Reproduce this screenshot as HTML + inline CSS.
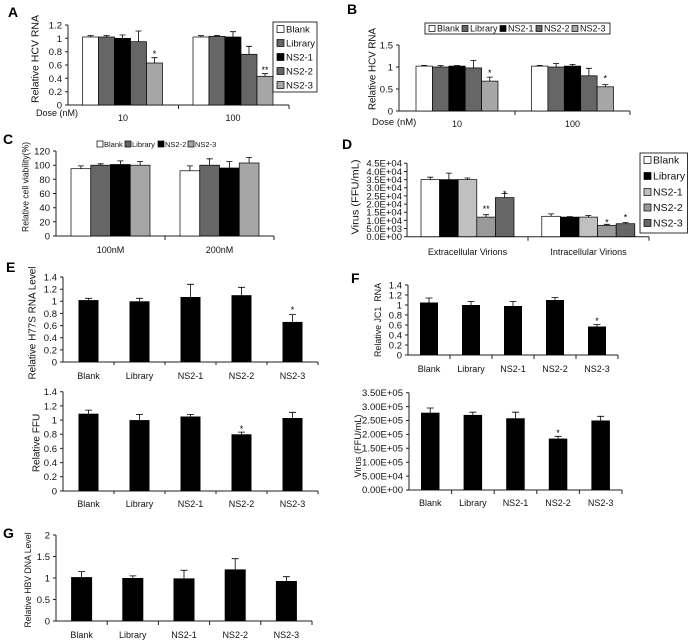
<!DOCTYPE html>
<html><head><meta charset="utf-8"><style>
html,body{margin:0;padding:0;background:#fff;}
svg{display:block;}
text{font-family:"Liberation Sans",Arial,sans-serif;fill:#111;}
.L{font-size:14px;font-weight:bold;fill:#000;}
.tk{font-size:9.5px;text-anchor:end;}
.cl{font-size:9px;text-anchor:middle;}
.ax{stroke:#222;stroke-width:1;fill:none;}
.b{stroke:#000;stroke-width:0.7;}
.e{stroke:#000;stroke-width:0.8;fill:none;}
.st{font-size:9px;text-anchor:middle;fill:#000;}
</style></head><body>
<svg width="689" height="642" viewBox="0 0 689 642" xmlns="http://www.w3.org/2000/svg">
<rect width="689" height="642" fill="#fff"/>

<!-- ===== Panel A ===== -->
<text class="L" x="8" y="17">A</text>
<path class="ax" d="M68,25V105H289 M65,25H68 M65,38.3H68 M65,51.7H68 M65,65H68 M65,78.3H68 M65,91.7H68 M65,105H68 M178.5,105V109 M289,105V109"/>
<text class="tk" x="62" y="108.5">0</text>
<text class="tk" x="62" y="95.2">0.2</text>
<text class="tk" x="62" y="81.8">0.4</text>
<text class="tk" x="62" y="68.5">0.6</text>
<text class="tk" x="62" y="55.2">0.8</text>
<text class="tk" x="62" y="41.8">1</text>
<text class="tk" x="62" y="28.5">1.2</text>
<rect class="b" x="82.5" y="37" width="16" height="68" fill="#fff"/>
<rect class="b" x="98.5" y="37" width="16" height="68" fill="#666"/>
<rect class="b" x="114.5" y="38.3" width="16" height="66.7" fill="#000"/>
<rect class="b" x="130.5" y="41.7" width="16" height="63.3" fill="#666"/>
<rect class="b" x="146.5" y="63" width="16" height="42" fill="#a6a6a6"/>
<rect class="b" x="193" y="37" width="16" height="68" fill="#fff"/>
<rect class="b" x="209" y="36.3" width="16" height="68.7" fill="#666"/>
<rect class="b" x="225" y="37" width="16" height="68" fill="#000"/>
<rect class="b" x="241" y="54.3" width="16" height="50.7" fill="#666"/>
<rect class="b" x="257" y="76.3" width="16" height="28.7" fill="#a6a6a6"/>
<path class="e" d="M90.5,37V35.7 M87.5,35.7H93.5 M106.5,37V35.7 M103.5,35.7H109.5 M122.5,38.3V35 M119.5,35H125.5 M138.5,41.7V31 M135.5,31H141.5 M154.5,63V57.7 M151.5,57.7H157.5
M201,37V35.7 M198,35.7H204 M217,36.3V35.4 M214,35.4H220 M233,37V31.7 M230,31.7H236 M249,54.3V46.3 M246,46.3H252 M265,76.3V73.7 M262,73.7H268"/>
<text class="st" x="154.5" y="57">*</text>
<text class="st" x="265" y="73">**</text>
<rect x="273" y="22" width="44" height="70" fill="#fff" stroke="#000" stroke-width="0.8"/>
<rect class="b" x="277" y="25.5" width="7" height="7" fill="#fff"/>
<rect class="b" x="277" y="39.5" width="7" height="7" fill="#666"/>
<rect class="b" x="277" y="53.5" width="7" height="7" fill="#000"/>
<rect class="b" x="277" y="67.5" width="7" height="7" fill="#666"/>
<rect class="b" x="277" y="81.5" width="7" height="7" fill="#a6a6a6"/>
<text x="286" y="32.5" font-size="9.5">Blank</text>
<text x="286" y="46.5" font-size="9.5">Library</text>
<text x="286" y="60.5" font-size="9.5">NS2-1</text>
<text x="286" y="74.5" font-size="9.5">NS2-2</text>
<text x="286" y="88.5" font-size="9.5">NS2-3</text>
<text transform="translate(38.5,59) rotate(-90)" text-anchor="middle" font-size="10.5" textLength="88" lengthAdjust="spacingAndGlyphs">Relative HCV RNA</text>
<text x="36" y="116" font-size="9">Dose (nM)</text>
<text class="cl" x="123" y="121">10</text>
<text class="cl" x="233" y="121">100</text>

<!-- ===== Panel B ===== -->
<text class="L" x="347" y="14">B</text>
<path class="ax" d="M399,45V111H630 M396,45H399 M396,67H399 M396,89H399 M396,111H399 M515,111V115 M630,111V115"/>
<text class="tk" x="393" y="114.5">0</text>
<text class="tk" x="393" y="92.5">0.5</text>
<text class="tk" x="393" y="70.5">1</text>
<text class="tk" x="393" y="48.5">1.5</text>
<rect class="b" x="416" y="66.1" width="16.4" height="44.9" fill="#fff"/>
<rect class="b" x="432.4" y="67" width="16.4" height="44" fill="#666"/>
<rect class="b" x="448.8" y="66.1" width="16.4" height="44.9" fill="#000"/>
<rect class="b" x="465.2" y="67.9" width="16.4" height="43.1" fill="#666"/>
<rect class="b" x="481.6" y="81.1" width="16.4" height="29.9" fill="#a6a6a6"/>
<rect class="b" x="531.5" y="66.1" width="16.4" height="44.9" fill="#fff"/>
<rect class="b" x="547.9" y="67" width="16.4" height="44" fill="#666"/>
<rect class="b" x="564.3" y="66.1" width="16.4" height="44.9" fill="#000"/>
<rect class="b" x="580.7" y="75.8" width="16.4" height="35.2" fill="#666"/>
<rect class="b" x="597.1" y="86.8" width="16.4" height="24.2" fill="#a6a6a6"/>
<path class="e" d="M424.2,66.1V65.4 M421.2,65.4H427.2 M440.6,67V65.7 M437.6,65.7H443.6 M457,66.1V65.5 M454,65.5H460 M473.4,67.9V60.4 M470.4,60.4H476.4 M489.8,81.1V77.1 M486.8,77.1H492.8
M539.7,66.1V65.4 M536.7,65.4H542.7 M556.1,67V63.5 M553.1,63.5H559.1 M572.5,66.1V64.4 M569.5,64.4H575.5 M588.9,75.8V68.3 M585.9,68.3H591.9 M605.3,86.8V84.6 M602.3,84.6H608.3"/>
<text class="st" x="489.8" y="76">*</text>
<text class="st" x="605.3" y="81.5">*</text>
<rect x="425" y="23" width="185" height="11" fill="#fff" stroke="#000" stroke-width="0.8"/>
<rect class="b" x="429" y="25.5" width="6" height="6" fill="#fff"/>
<rect class="b" x="462" y="25.5" width="6" height="6" fill="#666"/>
<rect class="b" x="500" y="25.5" width="6" height="6" fill="#000"/>
<rect class="b" x="536" y="25.5" width="6" height="6" fill="#666"/>
<rect class="b" x="572" y="25.5" width="6" height="6" fill="#a6a6a6"/>
<text x="437" y="31.5" font-size="9">Blank</text>
<text x="470" y="31.5" font-size="9">Library</text>
<text x="508" y="31.5" font-size="9">NS2-1</text>
<text x="544" y="31.5" font-size="9">NS2-2</text>
<text x="580" y="31.5" font-size="9">NS2-3</text>
<text transform="translate(375.5,69) rotate(-90)" text-anchor="middle" font-size="10" textLength="82" lengthAdjust="spacingAndGlyphs">Relative HCV RNA</text>
<text x="372" y="125" font-size="9.5">Dose (nM)</text>
<text class="cl" x="457" y="127">10</text>
<text class="cl" x="572.5" y="127">100</text>

<!-- ===== Panel C ===== -->
<text class="L" x="3" y="144">C</text>
<path class="ax" d="M56,151V236H274 M53,151H56 M53,165.2H56 M53,179.3H56 M53,193.5H56 M53,207.7H56 M53,221.8H56 M53,236H56 M165,236V240 M274,236V240"/>
<text class="tk" x="50" y="239.5">0</text>
<text class="tk" x="50" y="225.3">20</text>
<text class="tk" x="50" y="211.2">40</text>
<text class="tk" x="50" y="197">60</text>
<text class="tk" x="50" y="182.8">80</text>
<text class="tk" x="50" y="168.7">100</text>
<text class="tk" x="50" y="154.5">120</text>
<rect class="b" x="71" y="168.7" width="19.75" height="67.3" fill="#fff"/>
<rect class="b" x="90.75" y="165.2" width="19.75" height="70.8" fill="#666"/>
<rect class="b" x="110.5" y="164.5" width="19.75" height="71.5" fill="#000"/>
<rect class="b" x="130.25" y="165.2" width="19.75" height="70.8" fill="#a6a6a6"/>
<rect class="b" x="180" y="170.8" width="19.75" height="65.2" fill="#fff"/>
<rect class="b" x="199.75" y="165.2" width="19.75" height="70.8" fill="#666"/>
<rect class="b" x="219.5" y="168" width="19.75" height="68" fill="#000"/>
<rect class="b" x="239.25" y="163" width="19.75" height="73" fill="#a6a6a6"/>
<path class="e" d="M80.9,168.7V165.9 M77.9,165.9H83.9 M100.6,165.2V163.8 M97.6,163.8H103.6 M120.4,164.5V160.9 M117.4,160.9H123.4 M140.1,165.2V161.6 M137.1,161.6H143.1
M189.9,170.8V165.9 M186.9,165.9H192.9 M209.6,165.2V158.8 M206.6,158.8H212.6 M229.4,168V161.6 M226.4,161.6H232.4 M249.1,163V157.4 M246.1,157.4H252.1"/>
<rect class="b" x="97" y="141" width="6" height="6" fill="#fff"/>
<rect class="b" x="125" y="141" width="6" height="6" fill="#666"/>
<rect class="b" x="158" y="141" width="6" height="6" fill="#000"/>
<rect class="b" x="188" y="141" width="6" height="6" fill="#a6a6a6"/>
<text x="104" y="147" font-size="7.5">Blank</text>
<text x="132" y="147" font-size="7.5">Library</text>
<text x="165" y="147" font-size="7.5">NS2-2</text>
<text x="195" y="147" font-size="7.5">NS2-3</text>
<text transform="translate(28.5,187) rotate(-90)" text-anchor="middle" font-size="9.5" textLength="90" lengthAdjust="spacingAndGlyphs">Relative cell viability(%)</text>
<text class="cl" x="110.5" y="253" font-size="9.5">100nM</text>
<text class="cl" x="219.5" y="253" font-size="9.5">200nM</text>

<!-- ===== Panel D ===== -->
<text class="L" x="342" y="149">D</text>
<path class="ax" d="M407,163.3V236.7H649 M404,236.7H407 M404,228.5H407 M404,220.4H407 M404,212.2H407 M404,204.1H407 M404,195.9H407 M404,187.8H407 M404,179.6H407 M404,171.5H407 M404,163.3H407 M528,236.7V240.7 M649,236.7V240.7"/>
<text class="tk" x="402" y="240.1">0.0E+00</text>
<text class="tk" x="402" y="231.9">5.0E+03</text>
<text class="tk" x="402" y="223.8">1.0E+04</text>
<text class="tk" x="402" y="215.6">1.5E+04</text>
<text class="tk" x="402" y="207.5">2.0E+04</text>
<text class="tk" x="402" y="199.3">2.5E+04</text>
<text class="tk" x="402" y="191.2">3.0E+04</text>
<text class="tk" x="402" y="183">3.5E+04</text>
<text class="tk" x="402" y="174.9">4.0E+04</text>
<text class="tk" x="402" y="166.7">4.5E+04</text>
<rect class="b" x="421" y="179.6" width="18.6" height="57.1" fill="#fff"/>
<rect class="b" x="439.6" y="179.6" width="18.6" height="57.1" fill="#000"/>
<rect class="b" x="458.2" y="179.6" width="18.6" height="57.1" fill="#c0c0c0"/>
<rect class="b" x="476.8" y="217.1" width="18.6" height="19.6" fill="#999"/>
<rect class="b" x="495.4" y="197.6" width="18.6" height="39.1" fill="#666"/>
<rect class="b" x="541.8" y="216.3" width="18.6" height="20.4" fill="#fff"/>
<rect class="b" x="560.4" y="217.1" width="18.6" height="19.6" fill="#000"/>
<rect class="b" x="579" y="217.1" width="18.6" height="19.6" fill="#c0c0c0"/>
<rect class="b" x="597.6" y="225.3" width="18.6" height="11.4" fill="#999"/>
<rect class="b" x="616.2" y="223.7" width="18.6" height="13" fill="#666"/>
<path class="e" d="M430.3,179.6V177.2 M427.3,177.2H433.3 M448.9,179.6V173.1 M445.9,173.1H451.9 M467.5,179.6V178 M464.5,178H470.5 M486.1,217.1V214.7 M483.1,214.7H489.1 M504.7,197.6V193.5 M501.7,193.5H507.7
M551.1,216.3V213.9 M548.1,213.9H554.1 M569.7,217.1V216.6 M566.7,216.6H572.7 M588.3,217.1V215.5 M585.3,215.5H591.3 M606.9,225.3V224.3 M603.9,224.3H609.9 M625.5,223.7V222.6 M622.5,222.6H628.5"/>
<text class="st" x="486.1" y="212">**</text>
<text class="st" x="504.7" y="197">*</text>
<text class="st" x="606.9" y="225.5">*</text>
<text class="st" x="625.5" y="220.5">*</text>
<rect x="640" y="153" width="47.5" height="80" fill="#fff" stroke="#000" stroke-width="0.8"/>
<rect class="b" x="644" y="156.5" width="7" height="7" fill="#fff"/>
<rect class="b" x="644" y="172.5" width="7" height="7" fill="#000"/>
<rect class="b" x="644" y="188.5" width="7" height="7" fill="#c0c0c0"/>
<rect class="b" x="644" y="204" width="7" height="7" fill="#999"/>
<rect class="b" x="644" y="219.5" width="7" height="7" fill="#666"/>
<text x="653" y="163.7" font-size="10.5">Blank</text>
<text x="653" y="179.7" font-size="10.5">Library</text>
<text x="653" y="195.7" font-size="10.5">NS2-1</text>
<text x="653" y="211.2" font-size="10.5">NS2-2</text>
<text x="653" y="226.7" font-size="10.5">NS2-3</text>
<text transform="translate(358.5,197) rotate(-90)" text-anchor="middle" font-size="10" textLength="75" lengthAdjust="spacingAndGlyphs">Virus (FFU/mL)</text>
<text class="cl" x="467.5" y="255" font-size="9.5">Extracellular Virions</text>
<text class="cl" x="588.5" y="255" font-size="9.5">Intracellular Virions</text>

<!-- ===== Panel E top ===== -->
<text class="L" x="6" y="272">E</text>
<path class="ax" d="M63,277V362H318 M60,362H63 M60,349.9H63 M60,337.7H63 M60,325.6H63 M60,313.4H63 M60,301.3H63 M60,289.2H63 M60,277H63 M114,362V365 M165,362V365 M216,362V365 M267,362V365 M318,362V365"/>
<text class="tk" x="57" y="365.4">0</text>
<text class="tk" x="57" y="353.3">0.2</text>
<text class="tk" x="57" y="341.1">0.4</text>
<text class="tk" x="57" y="329">0.6</text>
<text class="tk" x="57" y="316.8">0.8</text>
<text class="tk" x="57" y="304.7">1</text>
<text class="tk" x="57" y="292.6">1.2</text>
<text class="tk" x="57" y="280.4">1.4</text>
<rect x="78.5" y="300.1" width="20" height="61.9" fill="#000"/>
<rect x="129.5" y="301.3" width="20" height="60.7" fill="#000"/>
<rect x="180.5" y="297" width="20" height="65" fill="#000"/>
<rect x="231.5" y="295.2" width="20" height="66.8" fill="#000"/>
<rect x="282.5" y="321.9" width="20" height="40.1" fill="#000"/>
<path class="e" d="M88.5,300.1V298.3 M85,298.3H92 M139.5,301.3V298.3 M136,298.3H143 M190.5,297V284.3 M187,284.3H194 M241.5,295.2V287.3 M238,287.3H245 M292.5,321.9V314.6 M289,314.6H296"/>
<text class="st" x="292.5" y="313">*</text>
<text class="cl" x="88.5" y="379">Blank</text>
<text class="cl" x="139.5" y="379">Library</text>
<text class="cl" x="190.5" y="379">NS2-1</text>
<text class="cl" x="241.5" y="379">NS2-2</text>
<text class="cl" x="292.5" y="379">NS2-3</text>
<text transform="translate(35.5,323) rotate(-90)" text-anchor="middle" font-size="10" textLength="113" lengthAdjust="spacingAndGlyphs">Relative H77S RNA Level</text>

<!-- ===== Panel E bottom ===== -->
<path class="ax" d="M63,391.7V491H318 M60,491H63 M60,476.8H63 M60,462.6H63 M60,448.4H63 M60,434.2H63 M60,420.1H63 M60,405.9H63 M60,391.7H63 M114,491V494 M165,491V494 M216,491V494 M267,491V494 M318,491V494"/>
<text class="tk" x="57" y="494.4">0</text>
<text class="tk" x="57" y="480.2">0.2</text>
<text class="tk" x="57" y="466">0.4</text>
<text class="tk" x="57" y="451.8">0.6</text>
<text class="tk" x="57" y="437.6">0.8</text>
<text class="tk" x="57" y="423.5">1</text>
<text class="tk" x="57" y="409.3">1.2</text>
<text class="tk" x="57" y="395.1">1.4</text>
<rect x="78.5" y="413.7" width="20" height="77.3" fill="#000"/>
<rect x="129.5" y="420.1" width="20" height="70.9" fill="#000"/>
<rect x="180.5" y="416.5" width="20" height="74.5" fill="#000"/>
<rect x="231.5" y="434.3" width="20" height="56.7" fill="#000"/>
<rect x="282.5" y="418" width="20" height="73" fill="#000"/>
<path class="e" d="M88.5,413.7V410.1 M85,410.1H92 M139.5,420.1V414.4 M136,414.4H143 M190.5,416.5V414.4 M187,414.4H194 M241.5,434.3V432.1 M238,432.1H245 M292.5,418V412.3 M289,412.3H296"/>
<text class="st" x="241.5" y="432">*</text>
<text class="cl" x="88.5" y="507">Blank</text>
<text class="cl" x="139.5" y="507">Library</text>
<text class="cl" x="190.5" y="507">NS2-1</text>
<text class="cl" x="241.5" y="507">NS2-2</text>
<text class="cl" x="292.5" y="507">NS2-3</text>
<text transform="translate(39.5,443) rotate(-90)" text-anchor="middle" font-size="10">Relative FFU</text>

<!-- ===== Panel F top ===== -->
<text class="L" x="351" y="283">F</text>
<path class="ax" d="M408,285V355H618 M405,355H408 M405,345H408 M405,335H408 M405,325H408 M405,315H408 M405,305H408 M405,295H408 M405,285H408 M450,355V359 M492,355V359 M534,355V359 M576,355V359 M618,355V359"/>
<text class="tk" x="402" y="358.3">0</text>
<text class="tk" x="402" y="348.3">0.2</text>
<text class="tk" x="402" y="338.3">0.4</text>
<text class="tk" x="402" y="328.3">0.6</text>
<text class="tk" x="402" y="318.3">0.8</text>
<text class="tk" x="402" y="308.3">1</text>
<text class="tk" x="402" y="298.3">1.2</text>
<text class="tk" x="402" y="288.3">1.4</text>
<rect x="420" y="302.5" width="18" height="52.5" fill="#000"/>
<rect x="462" y="305" width="18" height="50" fill="#000"/>
<rect x="504" y="306" width="18" height="49" fill="#000"/>
<rect x="546" y="300" width="18" height="55" fill="#000"/>
<rect x="588" y="326.5" width="18" height="28.5" fill="#000"/>
<path class="e" d="M429,302.5V298 M425.5,298H432.5 M471,305V301.5 M467.5,301.5H474.5 M513,306V301.5 M509.5,301.5H516.5 M555,300V297.5 M551.5,297.5H558.5 M597,326.5V324.5 M593.5,324.5H600.5"/>
<text class="st" x="597" y="324">*</text>
<text class="cl" x="429" y="372">Blank</text>
<text class="cl" x="471" y="372">Library</text>
<text class="cl" x="513" y="372">NS2-1</text>
<text class="cl" x="555" y="372">NS2-2</text>
<text class="cl" x="597" y="372">NS2-3</text>
<text transform="translate(381,320) rotate(-90)" text-anchor="middle" font-size="9" textLength="74" lengthAdjust="spacingAndGlyphs" xml:space="preserve">Relative JC1  RNA</text>

<!-- ===== Panel F bottom ===== -->
<path class="ax" d="M409,392.7V490H622 M406,490H409 M406,476.1H409 M406,462.2H409 M406,448.3H409 M406,434.4H409 M406,420.5H409 M406,406.6H409 M406,392.7H409 M451.6,490V494 M494.2,490V494 M536.8,490V494 M579.4,490V494 M622,490V494"/>
<text class="tk" x="403" y="493.2" font-size="8.5">0.00E+00</text>
<text class="tk" x="403" y="479.3" font-size="8.5">5.00E+04</text>
<text class="tk" x="403" y="465.4" font-size="8.5">1.00E+05</text>
<text class="tk" x="403" y="451.5" font-size="8.5">1.50E+05</text>
<text class="tk" x="403" y="437.6" font-size="8.5">2.00E+05</text>
<text class="tk" x="403" y="423.7" font-size="8.5">2.50E+05</text>
<text class="tk" x="403" y="409.8" font-size="8.5">3.00E+05</text>
<text class="tk" x="403" y="395.9" font-size="8.5">3.50E+05</text>
<rect x="421" y="412.7" width="18.5" height="77.3" fill="#000"/>
<rect x="463.6" y="414.9" width="18.5" height="75.1" fill="#000"/>
<rect x="506.2" y="418.3" width="18.5" height="71.7" fill="#000"/>
<rect x="548.8" y="438.6" width="18.5" height="51.4" fill="#000"/>
<rect x="591.4" y="420.5" width="18.5" height="69.5" fill="#000"/>
<path class="e" d="M430.25,412.7V408 M426.75,408H433.75 M472.85,414.9V412.2 M469.35,412.2H476.35 M515.45,418.3V412.2 M511.95,412.2H518.95 M558.05,438.6V436.3 M554.55,436.3H561.55 M600.65,420.5V416.3 M597.15,416.3H604.15"/>
<text class="st" x="558" y="436">*</text>
<text class="cl" x="430.25" y="506">Blank</text>
<text class="cl" x="472.85" y="506">Library</text>
<text class="cl" x="515.45" y="506">NS2-1</text>
<text class="cl" x="558.05" y="506">NS2-2</text>
<text class="cl" x="600.65" y="506">NS2-3</text>
<text transform="translate(361,446) rotate(-90)" text-anchor="middle" font-size="9.5" textLength="63" lengthAdjust="spacingAndGlyphs">Virus (FFU/mL)</text>

<!-- ===== Panel G ===== -->
<text class="L" x="3" y="538">G</text>
<path class="ax" d="M56,535V621H312 M53,535H56 M53,556.5H56 M53,578H56 M53,599.5H56 M53,621H56 M107.2,621V625 M158.4,621V625 M209.6,621V625 M260.8,621V625 M312,621V625"/>
<text class="tk" x="50" y="624.5">0</text>
<text class="tk" x="50" y="603">0.5</text>
<text class="tk" x="50" y="581.5">1</text>
<text class="tk" x="50" y="560">1.5</text>
<text class="tk" x="50" y="538.5">2</text>
<rect x="71.1" y="577.1" width="21" height="43.9" fill="#000"/>
<rect x="122.3" y="578" width="21" height="43" fill="#000"/>
<rect x="173.5" y="578.4" width="21" height="42.6" fill="#000"/>
<rect x="224.7" y="569.4" width="21" height="51.6" fill="#000"/>
<rect x="275.9" y="581" width="21" height="40" fill="#000"/>
<path class="e" d="M81.6,577.1V571.6 M78.1,571.6H85.1 M132.8,578V575.9 M129.3,575.9H136.3 M184,578.4V570.3 M180.5,570.3H187.5 M235.2,569.4V558.7 M231.7,558.7H238.7 M286.4,581V576.7 M282.9,576.7H289.9"/>
<text class="cl" x="81.6" y="638">Blank</text>
<text class="cl" x="132.8" y="638">Library</text>
<text class="cl" x="184" y="638">NS2-1</text>
<text class="cl" x="235.2" y="638">NS2-2</text>
<text class="cl" x="286.4" y="638">NS2-3</text>
<text transform="translate(31,580) rotate(-90)" text-anchor="middle" font-size="9" textLength="95" lengthAdjust="spacingAndGlyphs">Relative HBV DNA Level</text>
</svg>
</body></html>
